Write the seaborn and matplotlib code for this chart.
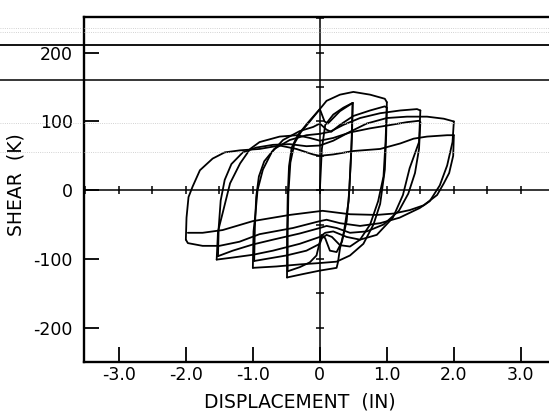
import numpy as np
import pandas as pd
import matplotlib
matplotlib.use("Agg")
import matplotlib.pyplot as plt
from matplotlib.lines import Line2D
import seaborn as sns

# ---- load-displacement record, one list per half cycle (displacement in, shear kips) ----
initial = [(0.0, 0), (0.03, 60), (0.08, 95), (0.2, 110), (0.35, 120), (0.49, 127)]
down_05a = [(0.49, 127), (0.48, 80), (0.46, 40), (0.43, -16), (0.36, -60), (0.3, -85),
            (0.27, -105), (0.25, -113), (0.0, -117), (-0.25, -122), (-0.49, -127)]
up_05a = [(-0.49, -127), (-0.49, -70), (-0.48, -10), (-0.46, 35), (-0.42, 62), (-0.33, 80),
          (-0.18, 98), (0.0, 118), (0.07, 100), (0.12, 97), (0.18, 103), (0.3, 115), (0.49, 127)]
down_05b = [(0.49, 127), (0.47, 60), (0.44, 0), (0.4, -45), (0.33, -75), (0.25, -90),
            (0.15, -88), (0.08, -70), (0.03, -65), (0.0, -75), (-0.05, -95), (-0.15, -105),
            (-0.3, -112), (-0.48, -118)]
up_05b = [(-0.48, -118), (-0.48, -60), (-0.47, -5), (-0.44, 40), (-0.38, 68), (-0.28, 85),
          (-0.15, 100), (0.0, 118), (0.1, 130), (0.3, 139), (0.5, 143), (0.75, 139),
          (0.97, 133), (1.0, 128)]
down_10a = [(1.0, 128), (0.99, 80), (0.97, 30), (0.9, -20), (0.8, -50), (0.65, -78),
            (0.45, -95), (0.25, -104), (0.0, -106), (-0.3, -108), (-0.65, -111), (-1.0, -113)]
up_10a = [(-1.0, -113), (-0.99, -60), (-0.96, -33), (-0.93, 0), (-0.85, 30), (-0.72, 55),
          (-0.55, 73), (-0.3, 86), (-0.1, 92), (0.0, 97), (0.1, 88), (0.17, 85), (0.3, 95),
          (0.5, 108), (0.75, 116), (0.97, 122), (1.0, 120)]
down_10b = [(1.0, 120), (0.98, 70), (0.95, 20), (0.87, -16), (0.75, -50), (0.6, -72),
            (0.45, -82), (0.3, -80), (0.18, -68), (0.1, -65), (0.03, -70), (0.0, -78),
            (-0.2, -88), (-0.5, -95), (-0.8, -100), (-0.98, -103)]
up_10b = [(-0.98, -103), (-0.97, -55), (-0.95, -10), (-0.91, 20), (-0.83, 42), (-0.68, 60),
          (-0.45, 73), (-0.2, 80), (0.0, 82), (0.15, 85), (0.35, 95), (0.6, 105), (0.9, 112),
          (1.2, 116), (1.45, 118), (1.5, 116)]
down_15a = [(1.5, 116), (1.48, 70), (1.34, 32), (1.24, -7), (1.09, -40), (0.85, -65),
            (0.6, -72), (0.4, -68), (0.2, -60), (0.08, -62), (0.0, -68), (-0.3, -78),
            (-0.7, -88), (-1.0, -94), (-1.3, -98), (-1.54, -101)]
up_15a = [(-1.54, -101), (-1.52, -60), (-1.45, -33), (-1.34, 10), (-1.19, 39), (-1.04, 60),
          (-0.9, 70), (-0.6, 78), (-0.34, 80), (-0.15, 76), (0.0, 72), (0.2, 76), (0.45, 84),
          (0.75, 90), (1.0, 94), (1.3, 99), (1.48, 101), (1.5, 99)]
down_15b = [(1.5, 99), (1.48, 60), (1.42, 25), (1.32, -5), (1.18, -30), (0.95, -50),
            (0.7, -60), (0.45, -62), (0.25, -55), (0.1, -52), (0.0, -55), (-0.3, -63),
            (-0.7, -72), (-1.0, -79), (-1.3, -88), (-1.52, -96)]
up_15b = [(-1.52, -96), (-1.51, -55), (-1.48, -15), (-1.42, 15), (-1.32, 38), (-1.15, 55),
          (-0.95, 62), (-0.7, 66), (-0.45, 67), (-0.2, 64), (0.0, 65), (0.2, 72), (0.45, 85),
          (0.7, 97), (1.0, 105), (1.3, 107), (1.6, 107), (1.85, 104), (2.0, 100)]
down_20a = [(2.0, 100), (1.98, 70), (1.9, 36), (1.79, 7), (1.64, -16), (1.49, -26),
            (1.19, -40), (0.9, -48), (0.6, -52), (0.3, -48), (0.1, -43), (0.0, -45),
            (-0.4, -55), (-0.9, -64), (-1.2, -75), (-1.5, -81), (-1.75, -81), (-1.97, -77),
            (-2.0, -72)]
up_20a = [(-2.0, -72), (-1.99, -40), (-1.96, -10), (-1.9, 5), (-1.79, 29), (-1.6, 46),
          (-1.42, 55), (-1.19, 58), (-0.9, 60), (-0.6, 65), (-0.35, 60), (-0.1, 52),
          (0.0, 50), (0.2, 52), (0.5, 57), (0.9, 60), (1.2, 68), (1.4, 75), (1.6, 78),
          (1.9, 80), (2.0, 80)]
down_20b = [(2.0, 80), (1.99, 50), (1.93, 25), (1.85, 10), (1.75, -7), (1.55, -22),
            (1.34, -29), (1.1, -34), (0.85, -36), (0.45, -35), (0.04, -30), (-0.45, -36),
            (-1.0, -45), (-1.45, -58), (-1.75, -62), (-1.97, -62)]

record = [initial, down_05a, up_05a, down_05b, up_05b, down_10a, up_10a, down_10b,
          up_10b, down_15a, up_15a, down_15b, up_15b, down_20a, up_20a, down_20b]

x_ticks = [-3.0, -2.0, -1.0, 0.0, 1.0, 2.0, 3.0]
x_tick_labels = ["-3.0", "-2.0", "-1.0", "0", "1.0", "2.0", "3.0"]
y_ticks = [-200, -100, 0, 100, 200]
y_tick_labels = ["-200", "-100", "0", "100", "200"]

rows = []
for k, seg in enumerate(record):
    for i, (d, v) in enumerate(seg):
        rows.append({"half_cycle": k, "order": i, "disp": d, "shear": v})
df = pd.DataFrame(rows)

sns.set_theme(style="white")
plt.rcParams["font.family"] = ["DejaVu Sans"]

fig = plt.figure(figsize=(5.49, 4.17), dpi=100)
ax = fig.add_axes([84 / 549, 55 / 417, 1 - 84 / 549, 345 / 417])
ax.patch.set_alpha(0)

sns.lineplot(data=df, x="disp", y="shear", units="half_cycle", estimator=None,
             sort=False, color="black", linewidth=1.3, ax=ax, legend=False)

ax.set_xlim(-3.52, 3.42)
ax.set_ylim(-245, 252)

# reference axes through the origin with small tick marks
ax.axhline(0, color="black", lw=1.1, zorder=1)
ax.axvline(0, color="black", lw=1.1, zorder=1)
xs = np.arange(-3.5, 3.51, 0.5)
ax.plot(xs, np.zeros_like(xs), ls="none", marker="|", ms=6, mew=1.1, color="black")
ys = np.arange(-250, 251, 50)
ax.plot(np.zeros_like(ys), ys, ls="none", marker="_", ms=6, mew=1.1, color="black")

ax.set_xticks(x_ticks)
ax.set_xticklabels(x_tick_labels)
ax.set_yticks(y_ticks)
ax.set_yticklabels(y_tick_labels)
ax.set_xticks(np.arange(-3.5, 3.5, 0.5), minor=True)
ax.set_yticks(np.arange(-250, 251, 50), minor=True)
ax.tick_params(axis="both", which="major", direction="in", length=11, width=1.3,
               labelsize=12.5, colors="black")
ax.tick_params(axis="y", which="major", pad=8)
ax.tick_params(axis="x", which="major", pad=3)
ax.tick_params(axis="both", which="minor", direction="in", length=3, width=1.0)
ax.tick_params(left=True, bottom=True)

for side in ["left", "bottom", "top"]:
    ax.spines[side].set_color("black")
    ax.spines[side].set_linewidth(1.7)
ax.spines["right"].set_visible(False)

ax.set_xlabel("DISPLACEMENT  (IN)", fontsize=13.5, color="black")
ax.set_ylabel("SHEAR  (K)", fontsize=13.5, color="black")
ax.xaxis.set_label_coords(0.4645, -0.088)
ax.yaxis.set_label_coords(-0.125, 0.513)
ax.xaxis.label.set_va("top")
ax.grid(False)

# ruled lines of the printed page crossing the sheet
for yf, w, c, ls in [(45, 1.3, "black", "-"), (80, 1.1, "black", "-"),
                     (28, 0.6, "#c4c4c4", ":"), (32, 0.6, "#c4c4c4", ":"),
                     (123, 0.6, "#c4c4c4", ":"), (152, 0.6, "#c4c4c4", ":")]:
    fig.add_artist(Line2D([0, 1], [1 - yf / 417, 1 - yf / 417], transform=fig.transFigure,
                          color=c, lw=w, ls=ls, zorder=5))

fig.savefig("out.png", dpi=100)
